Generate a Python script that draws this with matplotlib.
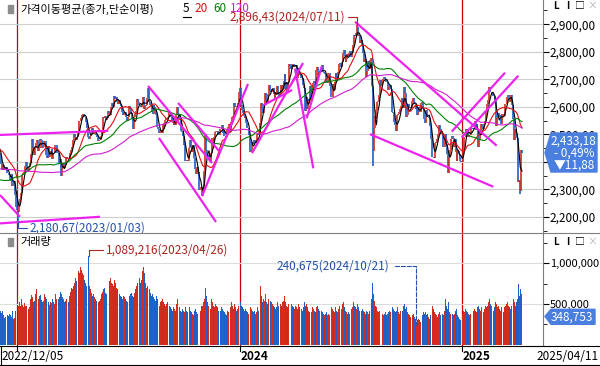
import numpy as np
import pandas as pd
import matplotlib.pyplot as plt
from matplotlib.lines import Line2D
from matplotlib.patches import Polygon, Rectangle
from matplotlib.ticker import FixedLocator, FuncFormatter

plt.rcParams['font.family'] = ['Noto Sans CJK KR', 'DejaVu Sans']

# KRX closed days (weekdays) inside the window
krx_holidays = [
    '2022-12-30',
    '2023-01-23', '2023-01-24', '2023-03-01', '2023-05-01', '2023-05-05',
    '2023-05-29', '2023-06-06', '2023-08-15', '2023-09-28', '2023-09-29',
    '2023-10-02', '2023-10-03', '2023-10-09', '2023-12-25', '2023-12-29',
    '2024-01-01', '2024-02-09', '2024-02-12', '2024-03-01', '2024-04-10',
    '2024-05-01', '2024-05-06', '2024-05-15', '2024-06-06', '2024-08-15',
    '2024-09-16', '2024-09-17', '2024-09-18', '2024-10-01', '2024-10-03',
    '2024-10-09', '2024-12-25', '2024-12-31',
    '2025-01-01', '2025-01-27', '2025-01-28', '2025-01-29', '2025-01-30',
    '2025-03-03',
]

# closes before 2022/12/05, only to warm up the moving averages
close_warmup = [
    2492, 2447,
    2451, 2440, 2391, 2408, 2342, 2314, 2366, 2401, 2422, 2377, 2332,
    2305, 2300, 2341, 2292, 2334, 2350, 2340, 2317, 2328, 2322, 2330,
    2370, 2386, 2409, 2403, 2393, 2401, 2415, 2435, 2415, 2451,
    2452, 2439, 2461, 2473, 2490, 2493, 2503, 2480, 2523, 2527, 2533,
    2516, 2508, 2462, 2435, 2447, 2450, 2477, 2481, 2426, 2450, 2472,
    2415, 2409, 2403, 2410, 2376, 2384, 2449, 2411, 2401, 2382, 2355,
    2347, 2367, 2332, 2314, 2290, 2220, 2223, 2170, 2155,
    2209, 2237, 2232, 2192, 2220, 2202, 2162, 2212, 2219, 2249, 2237,
    2218, 2213, 2236, 2235, 2245, 2234, 2268, 2293,
    2335, 2337, 2329, 2348, 2371, 2399, 2424, 2402, 2484, 2474, 2480,
    2475, 2477, 2442, 2451, 2441, 2419, 2405, 2437, 2408, 2433, 2473,
    2479, 2434,
]

close_2022 = [2419, 2393, 2382, 2371, 2389, 2372, 2379, 2382, 2361, 2360,
              2352, 2333, 2332, 2356, 2313, 2317, 2332, 2280, 2236]

close_2023 = [
    2225, 2218, 2255, 2264, 2289, 2350, 2351, 2359, 2365, 2386, 2400, 2379, 2368, 2380, 2395, 2428, 2468, 2484, 2450, 2425,
    2449, 2468, 2480, 2438, 2451, 2483, 2481, 2469, 2451, 2453, 2477, 2475, 2427, 2414, 2458, 2418, 2423, 2439, 2447, 2412,
    2431, 2432, 2463, 2463, 2431, 2432, 2394, 2410, 2348, 2379, 2377, 2395, 2379, 2388, 2417, 2416, 2415, 2409, 2434, 2443, 2453, 2476,
    2480, 2500, 2490, 2479, 2490, 2512, 2547, 2550, 2561, 2571, 2575, 2575, 2563, 2564, 2544, 2523, 2489, 2484, 2495, 2501,
    2524, 2516, 2501, 2510, 2511, 2496, 2491, 2475, 2479, 2480, 2494, 2515, 2537, 2563, 2558, 2566, 2554, 2559, 2585, 2577,
    2569, 2601, 2615, 2615, 2601, 2641, 2629, 2637, 2619, 2609, 2625, 2609, 2604, 2582, 2570, 2570, 2582, 2581, 2564, 2550, 2564,
    2602, 2593, 2579, 2556, 2526, 2520, 2562, 2574, 2584, 2628, 2619, 2607, 2608, 2600, 2609, 2628, 2636, 2592, 2603, 2608, 2632,
    2667, 2616, 2605, 2602, 2580, 2573, 2605, 2601, 2591, 2570, 2526, 2519, 2504, 2508, 2515, 2505, 2537, 2519, 2543, 2552, 2561, 2556,
    2563, 2584, 2582, 2563, 2548, 2547, 2535, 2536, 2534, 2572, 2601, 2574, 2559, 2559, 2514, 2508, 2495, 2462, 2465,
    2405, 2403, 2408, 2402, 2450, 2479, 2456, 2436, 2460, 2462, 2415, 2375, 2357, 2383, 2363, 2299, 2302, 2310, 2277,
    2301, 2343, 2368, 2502, 2443, 2421, 2427, 2409, 2403, 2433, 2486, 2488, 2469, 2491, 2510, 2511, 2514, 2496, 2496, 2521, 2519, 2535,
    2505, 2514, 2495, 2495, 2492, 2518, 2526, 2536, 2510, 2544, 2563, 2566, 2569, 2614, 2600, 2599, 2602, 2613, 2655,
]

close_2024 = [
    2669, 2607, 2587, 2578, 2567, 2561, 2562, 2541, 2525, 2525, 2497, 2435, 2440, 2472, 2464, 2478, 2469, 2470, 2478, 2500, 2498, 2497,
    2542, 2615, 2591, 2576, 2609, 2620, 2649, 2620, 2613, 2648, 2680, 2657, 2653, 2664, 2667, 2647, 2625, 2653, 2642,
    2675, 2649, 2641, 2647, 2680, 2660, 2681, 2693, 2718, 2666, 2686, 2657, 2690, 2755, 2748, 2737, 2757, 2755, 2745, 2747,
    2747, 2753, 2706, 2742, 2714, 2717, 2705, 2706, 2681, 2670, 2609, 2584, 2634, 2591, 2629, 2623, 2675, 2628, 2656, 2687, 2692,
    2683, 2676, 2734, 2745, 2712, 2727, 2727, 2730, 2753, 2725, 2724, 2724, 2721, 2687, 2687, 2722, 2722, 2677, 2635, 2636,
    2682, 2662, 2689, 2722, 2701, 2705, 2728, 2754, 2758, 2744, 2763, 2797, 2808, 2784, 2764, 2774, 2792, 2784, 2797,
    2804, 2780, 2794, 2824, 2862, 2857, 2867, 2867, 2891, 2857, 2860, 2830, 2843, 2824, 2795, 2763, 2774, 2758, 2710, 2731, 2765, 2738, 2770,
    2777, 2676, 2441, 2522, 2568, 2556, 2588, 2618, 2621, 2644, 2697, 2674, 2696, 2701, 2707, 2701, 2698, 2689, 2689, 2662, 2674,
    2681, 2664, 2580, 2576, 2544, 2535, 2523, 2513, 2572, 2575, 2580, 2593, 2602, 2631, 2596, 2671, 2649, 2593,
    2562, 2569, 2610, 2594, 2599, 2596, 2623, 2633, 2610, 2609, 2593, 2604, 2571, 2599, 2581, 2583, 2613, 2617, 2593, 2556,
    2542, 2588, 2576, 2563, 2564, 2561, 2531, 2482, 2417, 2418, 2416, 2469, 2471, 2481, 2482, 2501, 2534, 2520, 2503, 2504, 2455,
    2455, 2500, 2464, 2442, 2428, 2360, 2417, 2442, 2482, 2494, 2488, 2456, 2484, 2435, 2404, 2442, 2440, 2429, 2404, 2399,
]

close_2025 = [
    2399, 2441, 2489, 2492, 2521, 2516, 2515, 2489, 2497, 2497, 2524, 2523, 2520, 2519, 2547, 2515, 2536, 2517,
    2453, 2481, 2509, 2537, 2522, 2521, 2539, 2548, 2583, 2591, 2610, 2626, 2671, 2654, 2655, 2645, 2641, 2641, 2621, 2532,
    2532, 2558, 2576, 2563, 2570, 2537, 2574, 2575, 2566, 2610, 2612, 2628, 2637, 2643, 2630, 2617, 2643, 2607, 2557, 2481,
    2521, 2505, 2486, 2465, 2328, 2334, 2294, 2445.06, 2433.18,
]

# volume in thousand shares
vol_2022 = [380, 420, 395, 410, 360, 330, 345, 390, 410, 370, 350, 380, 365, 340, 420, 310, 330, 420, 455]

vol_2023 = [
    420, 510, 480, 520, 470, 560, 490, 460, 510, 480, 470, 450, 430, 440, 460, 560, 610, 580, 520, 540,
    620, 690, 640, 580, 560, 600, 610, 550, 520, 540, 620, 580, 560, 600, 640, 520, 490, 530, 510, 560,
    520, 500, 620, 560, 540, 480, 560, 590, 650, 620, 580, 560, 520, 540, 560, 580, 540, 520, 600, 650, 700, 680,
    720, 760, 820, 780, 740, 810, 900, 880, 960, 920, 880, 850, 800, 760, 720, 880, 850, 1089.216, 720, 680,
    640, 600, 620, 580, 560, 540, 560, 600, 520, 540, 560, 620, 650, 680, 700, 640, 620, 600, 680, 760,
    780, 820, 760, 740, 720, 800, 760, 700, 680, 660, 640, 620, 600, 580, 560, 600, 580, 560, 540, 520, 540,
    560, 600, 620, 640, 600, 580, 640, 680, 720, 760, 700, 780, 820, 760, 800, 900, 960, 880, 760, 700, 720,
    820, 740, 680, 640, 600, 620, 580, 560, 540, 600, 560, 520, 500, 480, 520, 540, 560, 520, 500, 480, 500, 520,
    500, 520, 480, 460, 440, 420, 460, 440, 420, 500, 560, 480, 440, 460, 420, 400, 440, 420, 400,
    460, 420, 400, 440, 480, 460, 420, 400, 380, 360, 420, 440, 400, 380, 420, 460, 440, 420, 480,
    480, 520, 560, 700, 600, 520, 480, 460, 420, 440, 560, 520, 480, 460, 500, 480, 460, 420, 400, 440, 420, 460,
    440, 420, 400, 380, 360, 420, 400, 440, 380, 460, 520, 480, 440, 500, 460, 420, 440, 480, 520,
]

vol_2024 = [
    560, 520, 480, 460, 440, 420, 440, 420, 400, 380, 420, 480, 460, 440, 420, 400, 420, 380, 400, 460, 420, 400,
    560, 720, 600, 520, 560, 540, 620, 520, 500, 560, 640, 560, 540, 520, 500, 480, 460, 440, 460,
    520, 480, 460, 440, 500, 480, 520, 540, 600, 520, 480, 460, 500, 620, 560, 520, 500, 480, 460, 440,
    480, 460, 440, 500, 460, 420, 400, 440, 420, 460, 520, 480, 500, 460, 420, 400, 440, 420, 400, 460, 440,
    420, 400, 460, 480, 440, 420, 400, 380, 420, 400, 380, 360, 380, 400, 360, 380, 360, 420, 440, 460,
    440, 420, 400, 460, 420, 400, 440, 480, 460, 420, 440, 500, 520, 460, 420, 400, 380, 400, 380,
    400, 420, 440, 460, 520, 480, 460, 440, 500, 460, 420, 440, 400, 420, 440, 420, 400, 380, 420, 400, 380, 420, 440,
    460, 560, 760, 620, 540, 480, 460, 420, 400, 420, 440, 420, 400, 380, 360, 380, 400, 360, 380, 400, 420,
    400, 420, 500, 460, 440, 420, 400, 420, 460, 400, 380, 420, 400, 440, 420, 480, 500, 440,
    460, 400, 380, 360, 340, 320, 340, 360, 380, 340, 320, 240.675, 300, 320, 300, 280, 320, 340, 360, 400,
    380, 400, 360, 380, 340, 320, 360, 420, 500, 480, 440, 400, 380, 360, 340, 380, 400, 360, 340, 320, 380,
    360, 420, 560, 480, 440, 520, 400, 380, 420, 400, 380, 360, 380, 420, 440, 360, 340, 320, 300, 340,
]

vol_2025 = [
    340, 380, 420, 400, 440, 420, 400, 380, 360, 380, 420, 440, 400, 420, 440, 420, 400, 460,
    480, 440, 420, 460, 440, 420, 400, 440, 480, 460, 480, 520, 560, 500, 480, 460, 440, 420, 460, 520,
    500, 460, 480, 440, 420, 460, 440, 420, 400, 460, 480, 500, 520, 480, 460, 440, 480, 460, 500, 560,
    520, 480, 520, 560, 740, 600, 680, 620, 348.753,
]

# intraday extremes that poke out of the candle bodies
high_marks = {'2024-07-11': 2896.43}
low_marks = {'2023-01-03': 2180.67, '2024-08-05': 2386.96, '2025-04-09': 2284.72}

ma_periods = [5, 20, 60, 120]
ma_colors = ['#000000', '#e01010', '#008000', '#d21ed2']

# user-drawn trend lines: (bar, price, bar, price)
trend_lines = [
    (0.3, 2498, 119.3, 2513), (0.3, 2177, 110.2, 2201), (0.3, 2280, 22.3, 2201),
    (163.0, 2676, 233.3, 2396), (175.0, 2487, 237.7, 2182), (196.0, 2614, 241.0, 2440),
    (222.3, 2276, 272.8, 2683), (277.2, 2432, 333.3, 2759), (290.4, 2607, 321.2, 2661),
    (324.5, 2739, 344.6, 2377), (337.3, 2558, 353.8, 2746), (390.4, 2909, 546.1, 2459),
    (406.9, 2501, 542.4, 2310), (496.7, 2510, 555.3, 2724), (507.7, 2489, 569.9, 2713),
]

# ---------------------------------------------------------------------------
dates = pd.bdate_range('2022-12-05', '2025-04-11')
dates = dates[~dates.isin(pd.to_datetime(krx_holidays))]
close = np.array(close_2022 + close_2023 + close_2024 + close_2025, dtype=float)
volume = np.array(vol_2022 + vol_2023 + vol_2024 + vol_2025, dtype=float) * 1000
assert len(close) == len(dates) == len(volume), (len(close), len(dates), len(volume))
idx = np.arange(len(close))

full = pd.Series(close_warmup + list(close))
mas = [full.rolling(n, min_periods=1).mean().to_numpy()[len(close_warmup):] for n in ma_periods]

opens = np.r_[close_warmup[-1], close[:-1]]
up = close >= opens
hi = np.maximum(opens, close)
lo = np.minimum(opens, close)
for d, v in high_marks.items():
    hi[dates.get_loc(pd.Timestamp(d))] = v
for d, v in low_marks.items():
    lo[dates.get_loc(pd.Timestamp(d))] = v

RED, BLUE = '#d22d1e', '#1f5fc8'
colors = np.where(up, RED, BLUE)

# layout in pixels of the 600x366 canvas
W, H = 600, 366
X0, DX = -0.29, 0.91          # pixel x of bar i
PLOT_R = 543


def fbox(x0, y0, x1, y1):
    return [x0 / W, 1 - y1 / H, (x1 - x0) / W, (y1 - y0) / H]


def fp(x, y):
    return (x / W, 1 - y / H)


fig = plt.figure(figsize=(6, 3.66), dpi=100)
ax = fig.add_axes(fbox(0, 0, PLOT_R, 233))
axv = fig.add_axes(fbox(0, 233, PLOT_R, 346))

xlim = ((0 - X0) / DX, (PLOT_R - X0) / DX)
for a in (ax, axv):
    a.set_xlim(*xlim)
    a.set_xticks([])
    for s in ('left', 'top', 'bottom'):
        a.spines[s].set_visible(False)
    a.spines['right'].set_color('#7f7f7f')
    a.yaxis.tick_right()
    a.tick_params(axis='y', which='major', length=4, pad=1, labelsize=8.5, colors='black')
    a.tick_params(axis='y', which='minor', length=3, colors='black')
    a.set_facecolor('white')
axv.tick_params(axis='y', which='major', labelsize=8)

ax.set_ylim(2142.1, 2987.8)
ax.yaxis.set_major_locator(FixedLocator(np.arange(2200, 2901, 100)))
ax.yaxis.set_minor_locator(FixedLocator(np.arange(2150, 2951, 50)))
# the 2,400 label sits under the current-price box
ax.yaxis.set_major_formatter(FuncFormatter(lambda v, p: '' if round(v) == 2400 else f'{v:,.0f},00'))
ax.grid(axis='y', color='#cfcfcf', lw=0.8)

axv.set_ylim(-16000, 1372000)
axv.yaxis.set_major_locator(FixedLocator([500000, 1000000]))
axv.yaxis.set_minor_locator(FixedLocator([250000, 750000, 1250000]))
axv.yaxis.set_major_formatter(FuncFormatter(lambda v, p: f'{v:,.0f}'))
axv.grid(axis='y', color='#dcdcdc', lw=0.8)

# year separators
year_starts = [i for i in range(1, len(dates)) if dates[i].year != dates[i - 1].year]
for a in (ax, axv):
    for i in year_starts:
        a.axvline(i - 0.3, color='#cc0000', lw=0.9, zorder=1)

# candles, moving averages, trend lines
ax.vlines(idx, lo, hi, colors=colors, lw=1.2, zorder=2)
for m, c in zip(mas, ma_colors):
    ax.plot(idx, m, color=c, lw=0.8, zorder=3)
for x1, y1, x2, y2 in trend_lines:
    ax.plot([x1, x2], [y1, y2], color='#ee22ee', lw=1.6, zorder=4, solid_capstyle='butt')

# volume
axv.bar(idx, volume, width=0.9, color=colors, linewidth=0, zorder=2)

# extreme annotations
ANN_RED, ANN_BLUE = '#b0231e', '#2050a8'
ih = int(np.argmax(hi))
ax.annotate(f'{hi[ih]:,.2f}'.replace('.', ',') + dates[ih].strftime('(%Y/%m/%d)'),
            xy=(ih, hi[ih]), xytext=(-12, 8), textcoords='offset pixels',
            ha='right', va='center', color=ANN_RED, fontsize=8.5, zorder=6,
            arrowprops=dict(arrowstyle='-', color=ANN_RED, lw=0.8, shrinkA=0, shrinkB=0,
                            connectionstyle='angle,angleA=0,angleB=90,rad=0'))
il = int(np.argmin(lo))
ax.annotate(f'{lo[il]:,.2f}'.replace('.', ',') + dates[il].strftime('(%Y/%m/%d)'),
            xy=(il, lo[il]), xytext=(12, -6), textcoords='offset pixels',
            ha='left', va='center', color=ANN_BLUE, fontsize=8.5, zorder=6,
            annotation_clip=False,
            arrowprops=dict(arrowstyle='-', color=ANN_BLUE, lw=0.8, shrinkA=0, shrinkB=0,
                            connectionstyle='angle,angleA=0,angleB=90,rad=0'))
iv = int(np.argmax(volume))
axv.annotate(f'{volume[iv]:,.0f}' + dates[iv].strftime('(%Y/%m/%d)'),
             xy=(iv, volume[iv]), xytext=(17, 6), textcoords='offset pixels',
             ha='left', va='center', color=ANN_RED, fontsize=8.5, zorder=6,
             arrowprops=dict(arrowstyle='-', color=ANN_RED, lw=0.8, shrinkA=0, shrinkB=0,
                             connectionstyle='angle,angleA=0,angleB=90,rad=0'))
iw = int(np.argmin(volume))
axv.annotate(f'{volume[iw]:,.0f}' + dates[iw].strftime('(%Y/%m/%d)'),
             xy=(iw, volume[iw]), xytext=(-27, 59), textcoords='offset pixels',
             ha='right', va='center', color=ANN_BLUE, fontsize=8.5, zorder=6,
             arrowprops=dict(arrowstyle='-', color=ANN_BLUE, lw=0.8, ls='--', shrinkA=2, shrinkB=0,
                             connectionstyle='angle,angleA=0,angleB=90,rad=0'))

# panel titles
fig.add_artist(Rectangle(fp(8, 13), 5 / W, 8 / H, color='#8c8c8c'))
fig.text(*fp(20, 9), '가격이동평균(종가,단순이평)', fontsize=8, va='center', ha='left')
for txt, x, c in zip(['5', '20', '60', '120'], [183, 194, 213, 230], ma_colors):
    fig.text(*fp(x, 9), txt, fontsize=8.5, va='center', ha='left', color=c)
fig.add_artist(Line2D([183 / W, 191 / W], [1 - 17 / H] * 2, color='black', lw=0.8))
fig.add_artist(Rectangle(fp(8, 246), 5 / W, 8 / H, color='#8c8c8c'))
fig.text(*fp(20, 242), '거래량', fontsize=8, va='center', ha='left')

# panel buttons
for y in (6, 242):
    for txt, x, c, w in zip(['L', 'I', '□', '×'], [556, 568, 580, 592],
                            ['black', 'black', 'black', '#b0b0b0'], ['bold', 'bold', 'normal', 'normal']):
        fig.text(*fp(x, y), txt, fontsize=7, ha='center', va='center', color=c, weight=w)

# current value boxes
BOX = '#4a7fe0'
last, prev = close[-1], close[-2]
chg = last - prev
y_last = 24.2 + (2900 - last) * 0.2755
fig.add_artist(Polygon([fp(545, y_last), fp(551, 133), fp(597, 133), fp(597, 172), fp(551, 172)],
                       closed=True, color=BOX, zorder=10))
fig.text(*fp(573, 141), f'{last:,.2f}'.replace('.', ','), color='white', fontsize=8.5,
         ha='center', va='center', zorder=11)
fig.text(*fp(574, 153), f'- {abs(chg) / prev * 100:.2f}%'.replace('.', ','), color='white',
         fontsize=8.5, ha='center', va='center', zorder=11)
fig.text(*fp(574, 165), f'▼{abs(chg):.2f}'.replace('.', ','), color='white', fontsize=8.5,
         ha='center', va='center', zorder=11)
y_vol = 344.7 - volume[-1] / 1e6 * 81.4
fig.add_artist(Polygon([fp(545, y_vol), fp(551, y_vol - 7), fp(595, y_vol - 7),
                        fp(595, y_vol + 8), fp(551, y_vol + 8)], closed=True, color=BOX, zorder=10))
fig.text(*fp(572, y_vol + 0.5), f'{volume[-1]:,.0f}', color='white', fontsize=8.5,
         ha='center', va='center', zorder=11)

# separators and date strip
for y in (233, 346, 365):
    fig.add_artist(Line2D([0, 1], [1 - y / H] * 2, color='#7f7f7f' if y == 233 else 'black', lw=0.8))
fig.add_artist(Line2D([0.5 / W] * 2, [1 - 346 / H, 1 - 365 / H], color='black', lw=0.8))
fig.text(*fp(1, 356), dates[0].strftime('%Y/%m/%d'), fontsize=8.5, va='center', ha='left')
fig.text(*fp(599, 356), dates[-1].strftime('%Y/%m/%d'), fontsize=8.5, va='center', ha='right')
for i in year_starts:
    xp = X0 + DX * i
    fig.add_artist(Line2D([xp / W] * 2, [1 - 346 / H, 1 - 351 / H], color='black', lw=0.8))
    if dates[i].year >= 2024:
        fig.text(*fp(xp + 1, 356), str(dates[i].year), fontsize=8.5, weight='bold',
                 va='center', ha='left')

fig.savefig('out.png', dpi=100)
